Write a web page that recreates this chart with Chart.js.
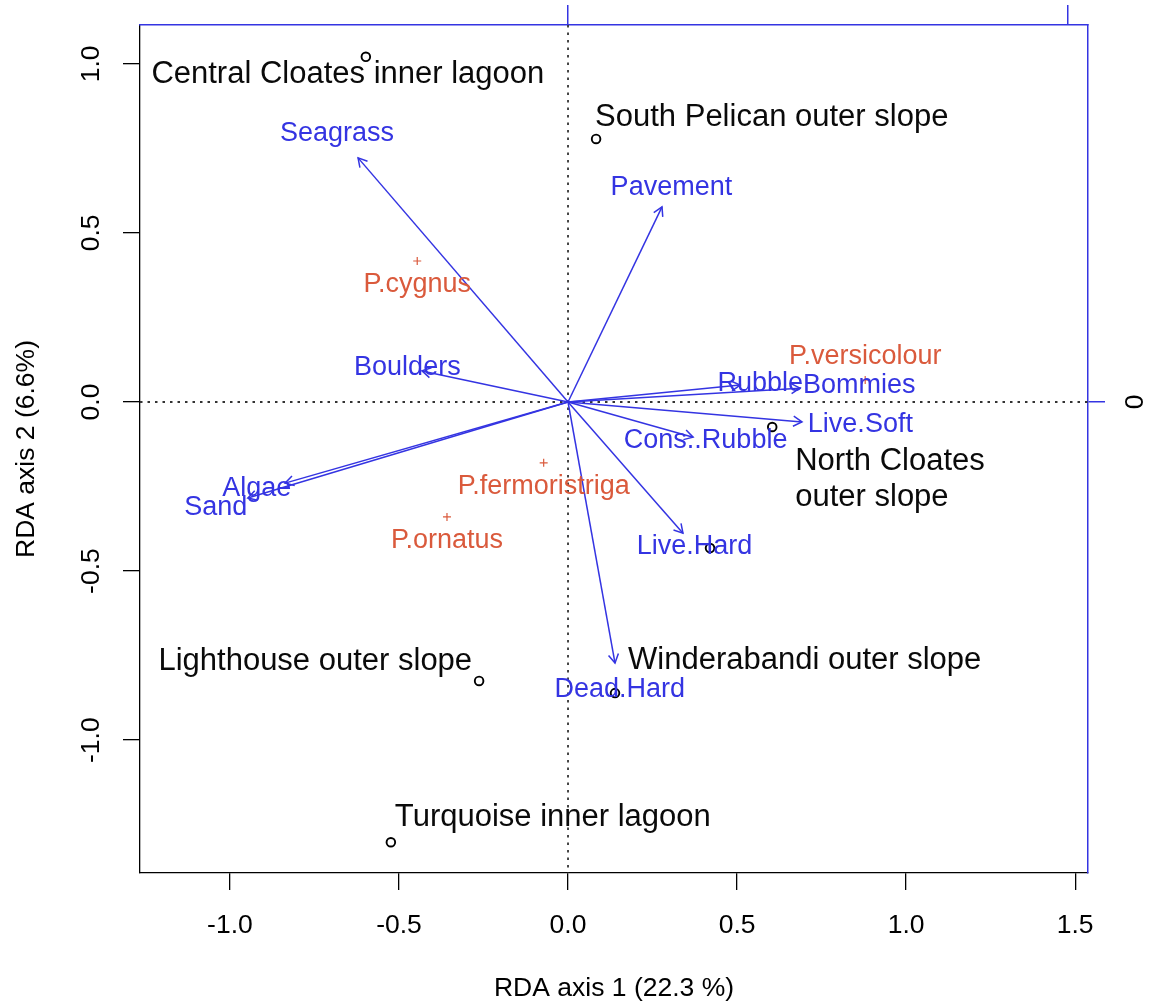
<!DOCTYPE html>
<html>
<head>
<meta charset="utf-8">
<script src="https://cdn.jsdelivr.net/npm/chart.js@4.4.1/dist/chart.umd.min.js"></script>
<style>
  html, body { margin: 0; padding: 0; background: #ffffff; }
  #wrap { width: 1153px; height: 1005px; }
</style>
</head>
<body>
<div id="wrap"><canvas id="c" width="1153" height="1005"></canvas></div>
<script>
// ---------------- data ----------------
const xTicks = [-1.0, -0.5, 0.0, 0.5, 1.0, 1.5];
const xTickLabels = ["-1.0", "-0.5", "0.0", "0.5", "1.0", "1.5"];
const yTicks = [-1.0, -0.5, 0.0, 0.5, 1.0];
const yTickLabels = ["-1.0", "-0.5", "0.0", "0.5", "1.0"];
const xLimits = [-1.266, 1.538];
const yLimits = [-1.393, 1.115];
const xTitle = "RDA axis 1 (22.3 %)";
const yTitle = "RDA axis 2 (6.6%)";

// sites (open circles)
const siteNames = ["Central Cloates inner lagoon", "South Pelican outer slope", "North Cloates\nouter slope",
                   "Winderabandi outer slope", "Lighthouse outer slope", "Turquoise inner lagoon", ""];
const siteX = [-0.598, 0.083, 0.604, 0.139, -0.263, -0.524, 0.420];
const siteY = [1.021, 0.778, -0.074, -0.861, -0.825, -1.302, -0.432];

// species (red crosses)
const speciesNames = ["P.cygnus", "P.fermoristriga", "P.ornatus", "P.versicolour"];
const speciesX = [-0.446, -0.072, -0.358, 0.879];
const speciesY = [0.417, -0.180, -0.340, 0.065];

// environmental biplot arrows
const envNames = ["Seagrass", "Pavement", "Boulders", "Rubble", "Bommies", "Live.Soft",
                  "Cons..Rubble", "Live.Hard", "Dead.Hard", "Algae", "Sand"];
const envX = [-0.621, 0.278, -0.432, 0.509, 0.686, 0.692, 0.370, 0.340, 0.139, -0.837, -0.947];
const envY = [0.722, 0.577, 0.092, 0.050, 0.041, -0.059, -0.104, -0.388, -0.772, -0.240, -0.284];

// secondary (biplot) axes
const bpMul = 2.958;
const bpTopTicks = [0, 0.5];
const bpRightTicks = [0];
const bpRightTickLabels = ["0"];

// ---------------- style ----------------
const FONT = "'Liberation Sans', Arial, Helvetica, sans-serif";
const BLUE = "#3434E2";
const RED = "#DA5A3C";
const BLACK = "#0a0a0a";
const AX_SIZE = 26.5;
const LAB_SIZE = 27;
const SITE_SIZE = 31;
const labMul = 1.1;
const envNudge = { "Rubble": [3, 0], "Bommies": [36, -1], "Live.Soft": [35, 1], "Algae": [0, -3] };
const speciesLabelDy = [23.5, 23.5, 23.5, -23];
const siteLabelPos = [
  { align: "center", dx: -18, dy: 18 },
  { align: "left", dx: -1, dy: -21.5 },
  { align: "left", dx: 23, dy: 34 },
  { align: "left", dx: 13, dy: -33 },
  { align: "right", dx: -7, dy: -19.5 },
  { align: "left", dx: 4, dy: -24.5 },
  null
];
const siteLineGap = 36.5;

// ---------------- datasets ----------------
const arrowSets = envNames.map((n, i) => ({
  label: n,
  data: [{ x: 0, y: 0 }, { x: envX[i], y: envY[i] }],
  showLine: true,
  borderColor: BLUE,
  borderWidth: 1.5,
  pointRadius: 0,
  fill: false,
  tension: 0
}));

const siteSet = {
  label: "sites",
  data: siteX.map((v, i) => ({ x: v, y: siteY[i] })),
  pointStyle: "circle",
  pointRadius: 4.3,
  pointBorderWidth: 1.9,
  borderColor: "#000000",
  backgroundColor: "rgba(0,0,0,0)",
  showLine: false
};

const speciesSet = {
  label: "species",
  data: speciesX.map((v, i) => ({ x: v, y: speciesY[i] })),
  pointStyle: "cross",
  pointRadius: 4,
  pointBorderWidth: 1.2,
  borderColor: RED,
  backgroundColor: RED,
  showLine: false
};

// ---------------- overlay plugin ----------------
const overlay = {
  id: "overlay",
  beforeDatasetsDraw(chart) {
    const { ctx, chartArea: a, scales: { x, y } } = chart;
    const x0 = x.getPixelForValue(0), y0 = y.getPixelForValue(0);
    ctx.save();
    ctx.strokeStyle = "#333333";
    ctx.lineWidth = 1.8;
    ctx.setLineDash([2.5, 5]);
    ctx.beginPath();
    ctx.moveTo(x0, a.top); ctx.lineTo(x0, a.bottom);
    ctx.moveTo(a.left, y0); ctx.lineTo(a.right, y0);
    ctx.stroke();
    ctx.restore();
  },
  afterDatasetsDraw(chart) {
    const { ctx, scales: { x, y } } = chart;
    const ox = x.getPixelForValue(0), oy = y.getPixelForValue(0);
    ctx.save();
    // arrowheads
    ctx.strokeStyle = BLUE;
    ctx.lineWidth = 1.5;
    const L = 10, ang = Math.PI / 6;
    envNames.forEach((n, i) => {
      const tx = x.getPixelForValue(envX[i]), ty = y.getPixelForValue(envY[i]);
      const th = Math.atan2(ty - oy, tx - ox);
      ctx.beginPath();
      ctx.moveTo(tx - L * Math.cos(th - ang), ty - L * Math.sin(th - ang));
      ctx.lineTo(tx, ty);
      ctx.lineTo(tx - L * Math.cos(th + ang), ty - L * Math.sin(th + ang));
      ctx.stroke();
    });
    // env labels
    ctx.font = LAB_SIZE + "px " + FONT;
    ctx.textAlign = "center";
    ctx.textBaseline = "middle";
    ctx.fillStyle = BLUE;
    envNames.forEach((n, i) => {
      const nd = envNudge[n] || [0, 0];
      const px = x.getPixelForValue(envX[i] * labMul) + nd[0];
      const py = y.getPixelForValue(envY[i] * labMul) + nd[1];
      ctx.fillText(n, px, py);
    });
    // species labels
    ctx.fillStyle = RED;
    speciesNames.forEach((n, i) => {
      const px = x.getPixelForValue(speciesX[i]);
      const py = y.getPixelForValue(speciesY[i]) + speciesLabelDy[i];
      ctx.fillText(n, px, py);
    });
    // site labels
    ctx.font = SITE_SIZE + "px " + FONT;
    ctx.fillStyle = BLACK;
    siteNames.forEach((n, i) => {
      const p = siteLabelPos[i];
      if (!p || !n) return;
      ctx.textAlign = p.align;
      const px = x.getPixelForValue(siteX[i]) + p.dx;
      const py = y.getPixelForValue(siteY[i]) + p.dy;
      n.split("\n").forEach((line, k) => ctx.fillText(line, px, py + k * siteLineGap));
    });
    ctx.restore();
  },
  afterDraw(chart) {
    const { ctx, scales: { y, y2 } } = chart;
    ctx.save();
    ctx.font = AX_SIZE + "px " + FONT;
    ctx.fillStyle = "#000000";
    ctx.textAlign = "center";
    ctx.textBaseline = "middle";
    yTicks.forEach((v, i) => {
      const py = y.getPixelForValue(v);
      ctx.save();
      ctx.translate(92, py);
      ctx.rotate(-Math.PI / 2);
      ctx.fillText(yTickLabels[i], 0, 0);
      ctx.restore();
    });
    bpRightTicks.forEach((v, i) => {
      const py = y2.getPixelForValue(v);
      ctx.save();
      ctx.translate(1136, py);
      ctx.rotate(-Math.PI / 2);
      ctx.fillText(bpRightTickLabels[i], 0, 0);
      ctx.restore();
    });
    ctx.restore();
  }
};

// ---------------- chart ----------------
const axFont = { family: FONT, size: AX_SIZE, lineHeight: 1.2 };
new Chart(document.getElementById("c"), {
  type: "scatter",
  data: { datasets: [...arrowSets, siteSet, speciesSet] },
  options: {
    responsive: false,
    animation: false,
    events: [],
    layout: { padding: 0 },
    plugins: { legend: { display: false }, tooltip: { enabled: false }, title: { display: false } },
    scales: {
      x: {
        type: "linear", position: "bottom", min: xLimits[0], max: xLimits[1],
        afterBuildTicks: s => { s.ticks = xTicks.map(v => ({ value: v })); },
        afterFit: s => { s.height = 132; },
        ticks: { callback: (v, i) => xTickLabels[i], color: "#000000", font: axFont, padding: 20,
                 maxRotation: 0, minRotation: 0, autoSkip: false },
        grid: { drawOnChartArea: false, drawTicks: true, tickLength: 17, color: "#000000", lineWidth: 1.3 },
        border: { display: true, color: "#000000", width: 1.3 },
        title: { display: true, text: xTitle, color: "#000000", font: axFont, padding: { top: 0, bottom: 0 } }
      },
      y: {
        type: "linear", position: "left", min: yLimits[0], max: yLimits[1],
        afterBuildTicks: s => { s.ticks = yTicks.map(v => ({ value: v })); },
        afterFit: s => { s.width = 140; },
        ticks: { callback: (v, i) => yTickLabels[i], color: "rgba(0,0,0,0)", font: axFont, autoSkip: false },
        grid: { drawOnChartArea: false, drawTicks: true, tickLength: 17, color: "#000000", lineWidth: 1.3 },
        border: { display: true, color: "#000000", width: 1.3 },
        title: { display: true, text: yTitle, color: "#000000", font: axFont, padding: { top: 11, bottom: 0 } }
      },
      x2: {
        type: "linear", axis: "x", position: "top", min: xLimits[0] / bpMul, max: xLimits[1] / bpMul,
        afterBuildTicks: s => { s.ticks = bpTopTicks.map(v => ({ value: v })); },
        afterFit: s => { s.height = 25; },
        ticks: { color: "rgba(0,0,0,0)", font: axFont, autoSkip: false },
        grid: { drawOnChartArea: false, drawTicks: true, tickLength: 20, color: BLUE, lineWidth: 1.5 },
        border: { display: true, color: BLUE, width: 1.5 }
      },
      y2: {
        type: "linear", axis: "y", position: "right", min: yLimits[0] / bpMul, max: yLimits[1] / bpMul,
        afterBuildTicks: s => { s.ticks = bpRightTicks.map(v => ({ value: v })); },
        afterFit: s => { s.width = 65; },
        ticks: { color: "rgba(0,0,0,0)", font: axFont, autoSkip: false },
        grid: { drawOnChartArea: false, drawTicks: true, tickLength: 17, color: BLUE, lineWidth: 1.5 },
        border: { display: true, color: BLUE, width: 1.5 }
      }
    }
  },
  plugins: [overlay]
});
</script>
</body>
</html>
